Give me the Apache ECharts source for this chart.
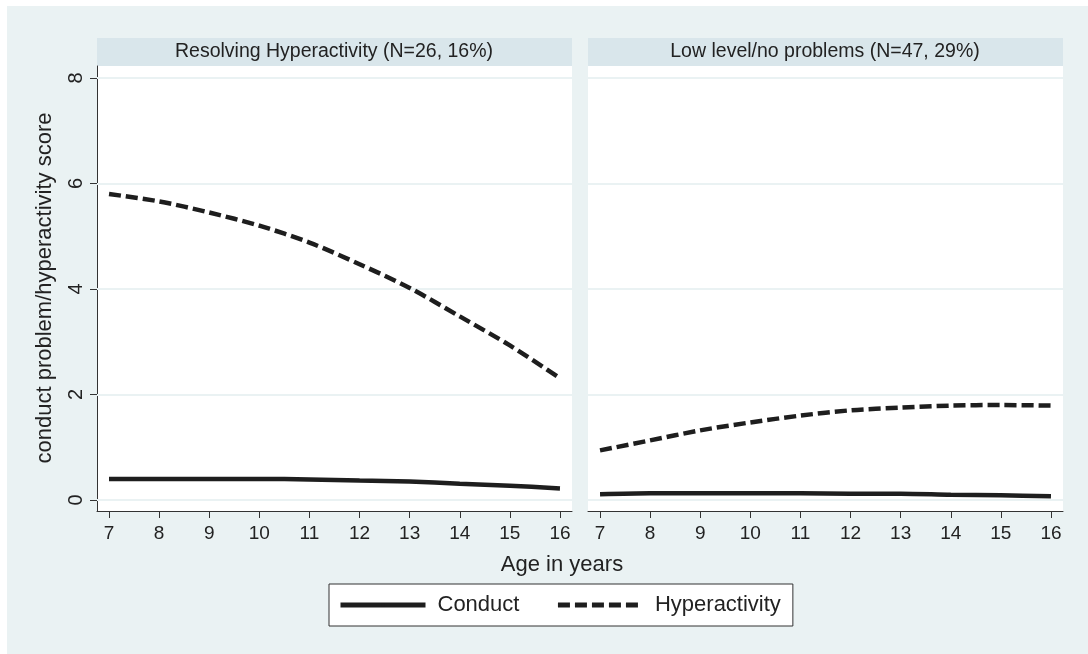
<!DOCTYPE html>
<html>
<head>
<meta charset="utf-8">
<script src="https://cdn.jsdelivr.net/npm/echarts@6/dist/echarts.min.js"></script>
<style>
  html, body { margin: 0; padding: 0; background: #fff; }
  #chart { width: 1088px; height: 654px; }
</style>
</head>
<body>
<div id="chart"></div>
<script>
// ages on the x axis
const ages = [7, 8, 9, 10, 11, 12, 13, 14, 15, 16]
const yTicks = [0, 2, 4, 6, 8]
const panelTitles = ['Resolving Hyperactivity (N=26, 16%)', 'Low level/no problems (N=47, 29%)']

// panel 1: resolving hyperactivity
const resolvingConduct = [0.40, 0.40, 0.40, 0.40, 0.39, 0.37, 0.35, 0.31, 0.27, 0.22]
const resolvingHyper = [5.80, 5.66, 5.45, 5.20, 4.88, 4.47, 4.02, 3.48, 2.93, 2.31]

// panel 2: low level / no problems
const lowConduct = [0.11, 0.13, 0.13, 0.13, 0.13, 0.12, 0.12, 0.10, 0.09, 0.07]
const lowHyper = [0.94, 1.13, 1.32, 1.47, 1.60, 1.70, 1.75, 1.79, 1.80, 1.79]

const chart = echarts.init(document.getElementById('chart'))

const bg = '#EAF2F3'
const strip = '#D9E6EB'
const ink = '#1e1e1e'
const font = 'Liberation Sans, Arial, sans-serif'
const dash = [12, 5]

function pairs(vals){
  return ages.map((a, i) => [a, vals[i]])
}

function xAxisFor(idx){
  return {
    gridIndex: idx,
    type: 'value',
    min: 6.76,
    max: 16.24,
    axisLine: { show: true, onZero: false, lineStyle: { color: '#333', width: 1 } },
    axisTick: { show: true, length: 7, customValues: ages, lineStyle: { color: '#333' } },
    axisLabel: { customValues: ages, color: '#222', fontSize: 19, fontFamily: font, margin: 13 },
    splitLine: { show: false }
  }
}

function yAxisFor(idx){
  return {
    gridIndex: idx,
    type: 'value',
    min: -0.2085,
    max: 8.227,
    axisLine: { show: idx === 0, onZero: false, lineStyle: { color: '#333', width: 1 } },
    axisTick: { show: idx === 0, length: 7, customValues: yTicks, lineStyle: { color: '#333' } },
    axisLabel: { show: idx === 0, customValues: yTicks, rotate: 90, color: '#222', fontSize: 20, fontFamily: font, margin: 11 },
    splitLine: { show: false }
  }
}

// horizontal grid lines at the y ticks
function gridLines(){
  return {
    silent: true,
    symbol: 'none',
    label: { show: false },
    lineStyle: { color: bg, width: 2, type: 'solid' },
    data: yTicks.map(v => ({ yAxis: v }))
  }
}

function lineSeries(name, idx, vals, dashed){
  return {
    name: name,
    type: 'line',
    xAxisIndex: idx,
    yAxisIndex: idx,
    data: pairs(vals),
    smooth: 0.3,
    symbol: 'none',
    z: 5,
    lineStyle: { color: ink, width: 4.5, type: dashed ? dash : 'solid' },
    itemStyle: { color: ink }
  }
}

const option = {
  backgroundColor: '#fff',
  animation: false,
  graphic: [
    { type: 'rect', z: -10, shape: { x: 7, y: 6, width: 1081, height: 648 }, style: { fill: bg } },
    { type: 'rect', z: -9, shape: { x: 97, y: 38, width: 475, height: 473 }, style: { fill: '#fff' } },
    { type: 'rect', z: -9, shape: { x: 588, y: 38, width: 475, height: 473 }, style: { fill: '#fff' } },
    { type: 'rect', z: -8, shape: { x: 97, y: 38, width: 475, height: 28 }, style: { fill: strip } },
    { type: 'rect', z: -8, shape: { x: 588, y: 38, width: 475, height: 28 }, style: { fill: strip } },
    { type: 'text', z: 1, x: 334, y: 52, style: { text: panelTitles[0], fill: '#222', font: '19.5px ' + font, align: 'center', verticalAlign: 'middle' } },
    { type: 'text', z: 1, x: 825, y: 52, style: { text: panelTitles[1], fill: '#222', font: '19.5px ' + font, align: 'center', verticalAlign: 'middle' } },
    { type: 'text', z: 1, x: 562, y: 565, style: { text: 'Age in years', fill: '#222', font: '22px ' + font, align: 'center', verticalAlign: 'middle' } },
    { type: 'text', z: 1, x: 45, y: 288, rotation: Math.PI / 2, style: { text: 'conduct problem/hyperactivity score', fill: '#222', font: '22px ' + font, align: 'center', verticalAlign: 'middle' } }
  ],
  legend: {
    left: 329,
    top: 584,
    data: ['Conduct', 'Hyperactivity'],
    backgroundColor: '#fff',
    borderColor: '#333',
    borderWidth: 1,
    padding: [10, 12, 10, 9],
    itemWidth: 85,
    itemHeight: 5,
    itemGap: 36,
    lineStyle: { width: 5 },
    textStyle: { color: '#222', fontSize: 22, fontFamily: font, padding: [0, 0, 0, 7] }
  },
  grid: [
    { left: 97, right: 516, top: 66, bottom: 143 },
    { left: 588, right: 25, top: 66, bottom: 143 }
  ],
  xAxis: [xAxisFor(0), xAxisFor(1)],
  yAxis: [yAxisFor(0), yAxisFor(1)],
  series: [
    Object.assign(lineSeries('Conduct', 0, resolvingConduct, false), { markLine: gridLines() }),
    lineSeries('Hyperactivity', 0, resolvingHyper, true),
    Object.assign(lineSeries('Conduct', 1, lowConduct, false), { markLine: gridLines() }),
    lineSeries('Hyperactivity', 1, lowHyper, true)
  ]
}

chart.setOption(option)
</script>
</body>
</html>
